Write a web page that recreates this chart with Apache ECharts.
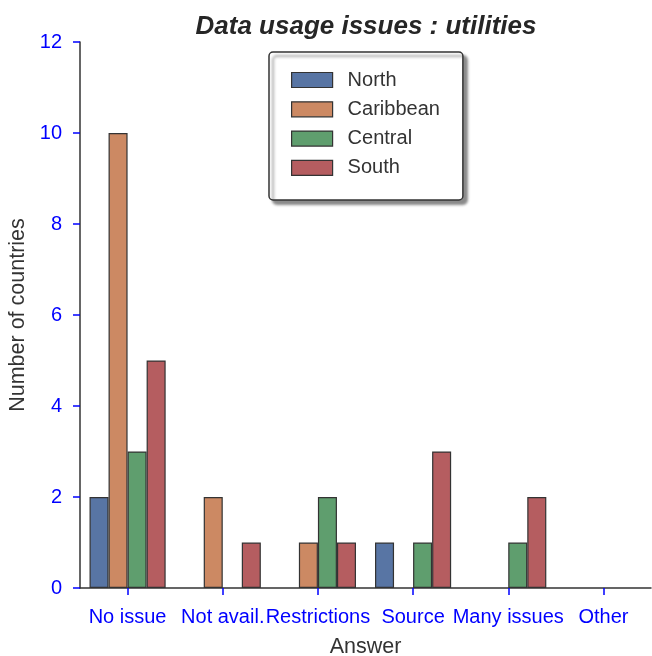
<!DOCTYPE html>
<html><head><meta charset="utf-8">
<script src="https://cdn.jsdelivr.net/npm/echarts@6/dist/echarts.min.js"></script>
<style>html,body{margin:0;padding:0;background:#fff}#c{width:652px;height:656px}</style>
</head><body><div id="c"></div>
<script>
const categories = ['No issue', 'Not avail.', 'Restrictions', 'Source', 'Many issues', 'Other'];
const north = [2, 0, 0, 1, 0, 0];
const caribbean = [10, 2, 1, 0, 0, 0];
const central = [3, 0, 2, 1, 1, 0];
const south = [5, 1, 1, 3, 2, 0];
const seriesNames = ['North', 'Caribbean', 'Central', 'South'];
const seriesData = [north, caribbean, central, south];
const colors = ['#5875a4', '#cc8963', '#5f9e6e', '#b55d60'];
const yTicks = [0, 2, 4, 6, 8, 10, 12];

const font = 'Liberation Sans, Arial, sans-serif';
const chart = echarts.init(document.getElementById('c'), null, {renderer: 'canvas'});
chart.setOption({
  animation: false,
  title: {
    text: 'Data usage issues : utilities', left: 361, top: 9, textAlign: 'center',
    textStyle: {fontFamily: font, fontSize: 26, fontWeight: 'bold', fontStyle: 'italic', color: '#262626'}
  },
  legend: {
    orient: 'vertical', left: 269, top: 52,
    padding: [18, 23, 22, 22],
    icon: 'rect',
    itemWidth: 41, itemHeight: 15, itemGap: 9.3,
    backgroundColor: '#fff', borderColor: '#333', borderWidth: 1.5, borderRadius: 4,
    shadowColor: 'rgba(0,0,0,0.45)', shadowBlur: 3, shadowOffsetX: 4, shadowOffsetY: 4,
    textStyle: {fontFamily: font, fontSize: 20, color: '#333', padding: [0, 0, 0, 10]},
    itemStyle: {borderColor: '#333', borderWidth: 1.2},
    data: seriesNames
  },
  grid: {left: 80, right: 1, top: 42, bottom: 68, containLabel: false, outerBoundsMode: 'none'},
  xAxis: {
    type: 'category', data: categories,
    name: 'Answer', nameLocation: 'middle', nameGap: 48,
    nameTextStyle: {fontFamily: font, fontSize: 21.5, color: '#333'},
    axisLine: {lineStyle: {color: '#333', width: 1.5}},
    axisTick: {show: true, alignWithLabel: true, length: 7, lineStyle: {color: '#0000ff', width: 1.5}},
    axisLabel: {fontFamily: font, fontSize: 20, color: '#0000ff', margin: 19, interval: 0}
  },
  yAxis: {
    type: 'value', min: 0, max: 12, interval: 2,
    name: 'Number of countries', nameLocation: 'middle', nameGap: 50,
    nameTextStyle: {fontFamily: font, fontSize: 21.5, color: '#333'},
    axisLine: {show: true, lineStyle: {color: '#333', width: 1.5}},
    axisTick: {show: true, length: 7, lineStyle: {color: '#0000ff', width: 1.5}},
    splitLine: {show: false},
    axisLabel: {fontFamily: font, fontSize: 20, color: '#0000ff', margin: 18,
      formatter: v => yTicks.includes(v) ? String(v) : ''}
  },
  series: seriesData.map((d, i) => ({
    name: seriesNames[i], type: 'bar',
    data: d.map(v => v === 0 ? {value: v, itemStyle: {borderWidth: 0, opacity: 0}} : v),
    barGap: '0%', barCategoryGap: '20%',
    itemStyle: {color: colors[i], borderColor: '#333', borderWidth: 1.2}
  }))
});
</script></body></html>
